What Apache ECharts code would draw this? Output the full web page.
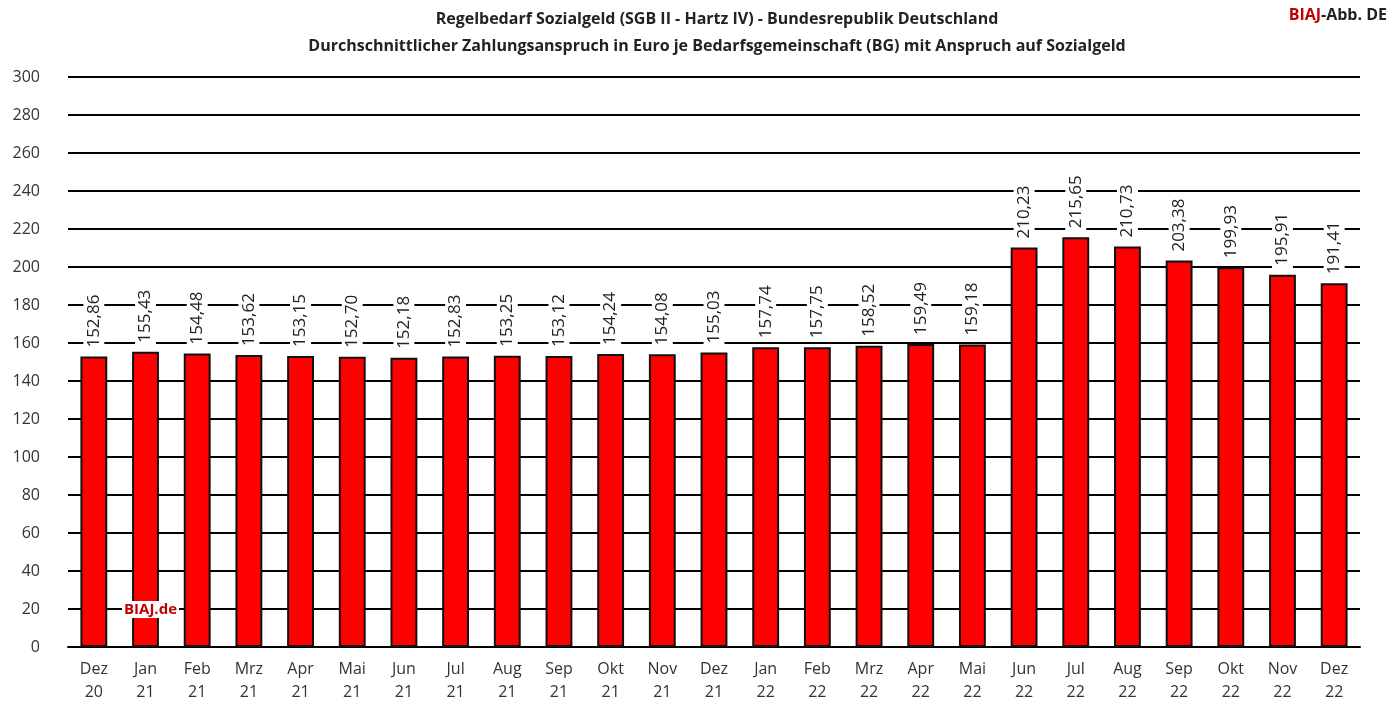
<!DOCTYPE html>
<html>
<head>
<meta charset="utf-8">
<script src="https://cdn.jsdelivr.net/npm/echarts@6/dist/echarts.min.js"></script>
<style>
  html, body { margin: 0; padding: 0; background: #fff; }
  #chart { width: 1393px; height: 704px; }
</style>
</head>
<body>
<div id="chart"></div>
<script>
const months = ['Dez', 'Jan', 'Feb', 'Mrz', 'Apr', 'Mai', 'Jun', 'Jul', 'Aug', 'Sep', 'Okt', 'Nov', 'Dez',
  'Jan', 'Feb', 'Mrz', 'Apr', 'Mai', 'Jun', 'Jul', 'Aug', 'Sep', 'Okt', 'Nov', 'Dez'];
const years = ['20', '21', '21', '21', '21', '21', '21', '21', '21', '21', '21', '21', '21',
  '22', '22', '22', '22', '22', '22', '22', '22', '22', '22', '22', '22'];
const values = [152.86, 155.43, 154.48, 153.62, 153.15, 152.70, 152.18, 152.83, 153.25, 153.12, 154.24, 154.08, 155.03,
  157.74, 157.75, 158.52, 159.49, 159.18, 210.23, 215.65, 210.73, 203.38, 199.93, 195.91, 191.41];

const categories = months.map((m, i) => m + '\n' + years[i]);
const font = '"Open Sans", sans-serif';

const chart = echarts.init(document.getElementById('chart'));

const option = {
  animation: false,
  textStyle: { fontFamily: font },
  title: [
    {
      text: 'Regelbedarf Sozialgeld (SGB II - Hartz IV) - Bundesrepublik Deutschland\nDurchschnittlicher Zahlungsanspruch in Euro je Bedarfsgemeinschaft (BG) mit Anspruch auf Sozialgeld',
      left: 712, top: 1, textAlign: 'center',
      textStyle: { fontSize: 16, fontWeight: 'bold', color: '#222', lineHeight: 27, fontFamily: font }
    }
  ],
  graphic: [
    {
      type: 'text', right: 6, top: 7,
      style: {
        text: '{r|BIAJ}{b|-Abb. DE}',
        rich: {
          r: { fill: '#c00000', fontSize: 16, fontWeight: 'bold', fontFamily: font },
          b: { fill: '#222', fontSize: 16, fontWeight: 'bold', fontFamily: font }
        }
      }
    },
    {
      type: 'text', left: 122, top: 601, z: 100,
      style: {
        text: 'BIAJ.de', fill: '#c00000', fontSize: 15, fontWeight: 'bold', fontFamily: font,
        backgroundColor: '#fff', padding: [1, 2]
      }
    }
  ],
  grid: { left: 68, right: 33, top: 77, bottom: 57 },
  xAxis: {
    type: 'category',
    data: categories,
    axisLine: { lineStyle: { color: '#000', width: 2 } },
    axisTick: { show: false },
    axisLabel: { color: '#333', fontSize: 16, lineHeight: 23, margin: 11, fontFamily: font }
  },
  yAxis: {
    type: 'value',
    min: 0, max: 300, interval: 20,
    axisLine: { show: false },
    axisTick: { show: false },
    axisLabel: { color: '#333', fontSize: 16, margin: 28, fontFamily: font },
    splitLine: { lineStyle: { color: '#000', width: 2 } }
  },
  series: [
    {
      type: 'bar',
      data: values,
      barWidth: '52%',
      itemStyle: { color: '#ff0000', borderColor: '#111', borderWidth: 2 },
      label: {
        show: true,
        position: 'top',
        rotate: 90,
        align: 'left',
        verticalAlign: 'middle',
        distance: 6,
        color: '#222',
        fontSize: 17,
        fontFamily: font,
        backgroundColor: '#fff',
        padding: [2, 3],
        formatter: p => p.value.toFixed(2).replace('.', ',')
      }
    }
  ]
};

chart.setOption(option);
</script>
</body>
</html>
